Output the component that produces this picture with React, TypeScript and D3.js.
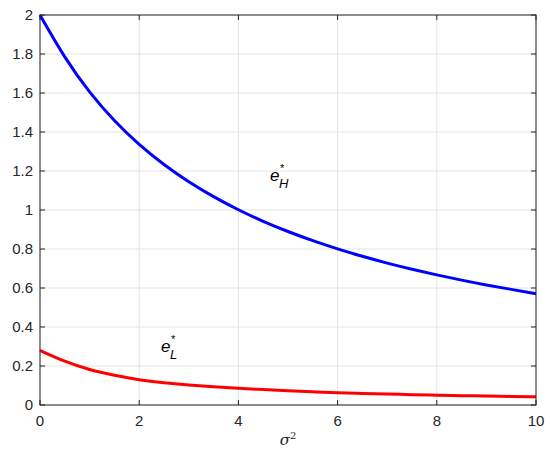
import React from 'react';
import * as d3 from 'd3';

// values
const sigma2 = [0, 0.5, 1, 1.5, 2, 2.5, 3, 3.5, 4, 4.5, 5, 5.5, 6, 6.5, 7, 7.5, 8, 8.5, 9, 9.5, 10];
const eH = [2, 1.778, 1.6, 1.455, 1.333, 1.231, 1.143, 1.067, 1.0, 0.941, 0.889, 0.842, 0.8, 0.762, 0.727, 0.696, 0.667, 0.64, 0.615, 0.593, 0.571];
const eL = [0.28, 0.222, 0.18, 0.152, 0.128, 0.114, 0.103, 0.093, 0.085, 0.079, 0.073, 0.068, 0.062, 0.059, 0.056, 0.053, 0.05, 0.048, 0.046, 0.044, 0.042];
const xTicks = [0, 2, 4, 6, 8, 10];
const yTicks = [0, 0.2, 0.4, 0.6, 0.8, 1, 1.2, 1.4, 1.6, 1.8, 2];

const W = 550;
const H = 454;
const m = { left: 40, right: 14, top: 15, bottom: 49 };

function Label({ x, y, sub }: { x: number; y: number; sub: string }) {
  const font = 'Arial, "Liberation Sans", Helvetica, sans-serif';
  return (
    <g fontFamily={font} fill="#000" fontStyle="italic">
      <text x={x} y={y} fontSize={17}>e</text>
      <text x={x + 10} y={y - 9} fontSize={11} fontStyle="normal">*</text>
      <text x={x + 9} y={y + 7} fontSize={13}>{sub}</text>
    </g>
  );
}

export default function App() {
  const x = d3.scaleLinear().domain([0, 10]).range([m.left, W - m.right]);
  const y = d3.scaleLinear().domain([0, 2]).range([H - m.bottom, m.top]);

  const line = d3
    .line<number>()
    .x((_, i) => x(sigma2[i]))
    .y((d) => y(d))
    .curve(d3.curveBasis);

  const font = 'Arial, "Liberation Sans", Helvetica, sans-serif';
  const axisColor = '#262626';
  const x0 = x(0), x1 = x(10), y0 = y(0), y1 = y(2);

  return (
    <svg width={W} height={H} style={{ position: 'absolute', left: 0, top: 0 }}>
      <rect x={0} y={0} width={W} height={H} fill="#fff" />
      {/* grid */}
      {xTicks.map((t) => (
        <line key={'gx' + t} x1={x(t)} x2={x(t)} y1={y0} y2={y1} stroke="#e3e3e3" strokeWidth={1} />
      ))}
      {yTicks.map((t) => (
        <line key={'gy' + t} x1={x0} x2={x1} y1={y(t)} y2={y(t)} stroke="#e3e3e3" strokeWidth={1} />
      ))}
      {/* curves */}
      <path d={line(eH) || ''} fill="none" stroke="#0000ff" strokeWidth={3} />
      <path d={line(eL) || ''} fill="none" stroke="#ff0000" strokeWidth={3} />
      {/* box */}
      <rect x={x0} y={y1} width={x1 - x0} height={y0 - y1} fill="none" stroke={axisColor} strokeWidth={1} />
      {/* ticks */}
      {xTicks.map((t) => (
        <g key={'tx' + t}>
          <line x1={x(t)} x2={x(t)} y1={y0} y2={y0 - 5} stroke={axisColor} />
          <line x1={x(t)} x2={x(t)} y1={y1} y2={y1 + 5} stroke={axisColor} />
          <text x={x(t)} y={y0 + 21} textAnchor="middle" fontFamily={font} fontSize={15} fill={axisColor}>
            {t}
          </text>
        </g>
      ))}
      {yTicks.map((t) => (
        <g key={'ty' + t}>
          <line x1={x0} x2={x0 + 5} y1={y(t)} y2={y(t)} stroke={axisColor} />
          <line x1={x1} x2={x1 - 5} y1={y(t)} y2={y(t)} stroke={axisColor} />
          <text x={x0 - 7} y={y(t) + 5} textAnchor="end" fontFamily={font} fontSize={15} fill={axisColor}>
            {d3.format('~g')(t)}
          </text>
        </g>
      ))}
      {/* x label */}
      <text x={x(5)} y={y0 + 40} textAnchor="middle" fontFamily='"DejaVu Serif", serif' fontSize={15} fill={axisColor}>
        <tspan fontStyle="italic">σ</tspan>
        <tspan dy={-6} fontSize={10}>2</tspan>
      </text>
      {/* annotations */}
      <Label x={270} y={181} sub="H" />
      <Label x={161} y={352} sub="L" />
    </svg>
  );
}
